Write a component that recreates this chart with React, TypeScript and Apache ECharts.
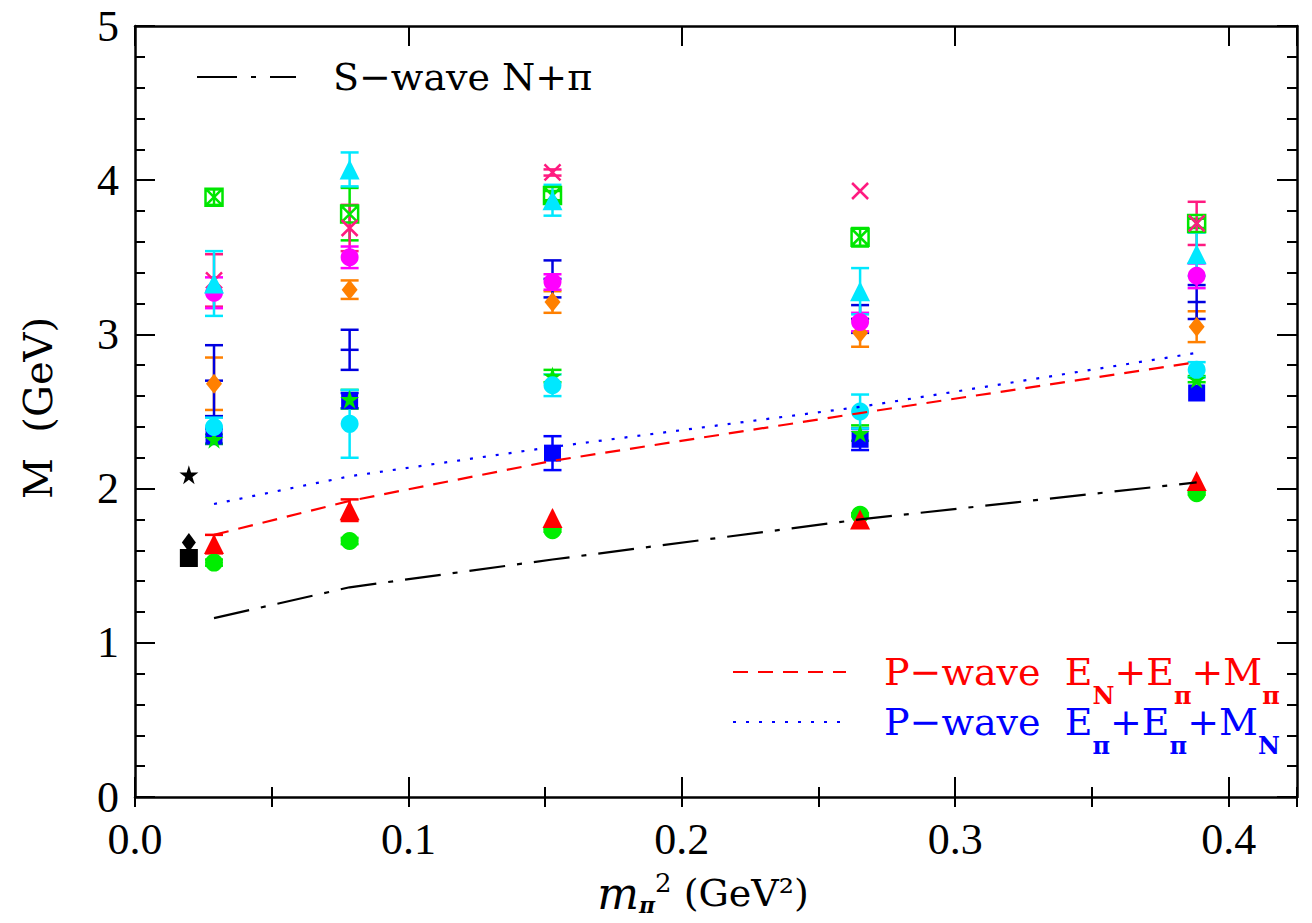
import React, { useEffect, useRef } from "react";
import * as echarts from "echarts";

// ---------- data ----------
const pionMassSq = [0.0289, 0.0785, 0.1527, 0.2652, 0.3883];
const physicalPionMassSq = 0.0197;

const xTickValues = [0, 0.1, 0.2, 0.3, 0.4];
const yTickValues = [0, 1, 2, 3, 4, 5];

const sWaveNPi = [1.16, 1.36, 1.54, 1.8, 2.04];
const pWaveENEpiMpi = [1.7, 1.92, 2.18, 2.49, 2.82];
const pWaveEpiEpiMN = [1.9, 2.08, 2.27, 2.53, 2.88];

const greenCircle = [1.52, 1.66, 1.73, 1.83, 1.97];
const greenCircleErr = [0.02, 0.02, 0.01, 0.01, 0.01];
const redTriangle = [1.64, 1.86, 1.81, 1.8, 2.05];
const redTriangleErr = [0.06, 0.07, 0.0, 0.0, 0.0];
const blueSquare = [2.34, 2.57, 2.23, 2.32, 2.62];
const blueSquareErr = [0.05, 0.05, 0.11, 0.07, 0.0];
const greenStar = [2.32, 2.58, 2.73, 2.36, 2.71];
const greenStarErr = [0.03, 0.06, 0.04, 0.05, 0.02];
const cyanCircle = [2.4, 2.42, 2.67, 2.5, 2.77];
const cyanCircleErr = [0.06, 0.22, 0.07, 0.11, 0.05];
const bluePlus = [2.7, 2.9, 3.36, 3.1, 3.21];
const bluePlusErr = [0.23, 0.13, 0.12, 0.09, 0.11];
const orangeDiamond = [2.68, 3.29, 3.21, 3.01, 3.05];
const orangeDiamondErr = [0.17, 0.06, 0.07, 0.09, 0.1];
const magentaCircle = [3.27, 3.5, 3.34, 3.08, 3.38];
const magentaCircleErr = [0.1, 0.07, 0.05, 0.06, 0.08];
const cyanTriangle = [3.33, 4.07, 3.87, 3.28, 3.52];
const cyanTriangleErr = [0.21, 0.11, 0.1, 0.15, 0.14];
const greenBoxX = [3.89, 3.78, 3.9, 3.63, 3.72];
const greenBoxXErr = [0.05, 0.17, 0.03, 0.06, 0.03];
const pinkX = [3.35, 3.69, 4.05, 3.93, 3.72];
const pinkXErr = [0.17, 0.15, 0.02, 0.0, 0.14];

const physSquare = 1.55;
const physDiamond = 1.65;
const physStar = 2.09;

// ---------- styles ----------
const STAR = "path://M50,0 L61,35 L98,35 L68,57 L79,91 L50,70 L21,91 L32,57 L2,35 L39,35 Z";
const XMARK = "path://M0,0 L10,10 M10,0 L0,10";
const BOXX = "path://M0,0 L10,0 L10,10 L0,10 Z M0,0 L10,10 M10,0 L0,10";

type DS = {
  name: string;
  vals: number[];
  errs: number[];
  color: string;
  symbol: string | null;
  size: number | number[];
  hollow?: boolean;
  centerTick?: boolean;
};

const dataSets: DS[] = [
  { name: "greenBoxX", vals: greenBoxX, errs: greenBoxXErr, color: "#00e600", symbol: BOXX, size: 17, hollow: true },
  { name: "pinkX", vals: pinkX, errs: pinkXErr, color: "#ff1a80", symbol: XMARK, size: 16, hollow: true },
  { name: "orangeDiamond", vals: orangeDiamond, errs: orangeDiamondErr, color: "#ff8000", symbol: "diamond", size: [16, 20] },
  { name: "bluePlus", vals: bluePlus, errs: bluePlusErr, color: "#0000e0", symbol: null, size: 0, centerTick: true },
  { name: "magentaCircle", vals: magentaCircle, errs: magentaCircleErr, color: "#ff00ff", symbol: "circle", size: 18 },
  { name: "cyanTriangle", vals: cyanTriangle, errs: cyanTriangleErr, color: "#00e8ff", symbol: "triangle", size: 20 },
  { name: "blueSquare", vals: blueSquare, errs: blueSquareErr, color: "#0000ff", symbol: "rect", size: 17 },
  { name: "greenStar", vals: greenStar, errs: greenStarErr, color: "#00e600", symbol: STAR, size: 19 },
  { name: "cyanCircle", vals: cyanCircle, errs: cyanCircleErr, color: "#00e8ff", symbol: "circle", size: 18 },
  { name: "greenCircle", vals: greenCircle, errs: greenCircleErr, color: "#00ee00", symbol: "circle", size: 18 },
  { name: "redTriangle", vals: redTriangle, errs: redTriangleErr, color: "#ff0000", symbol: "triangle", size: 20 },
];

function makeErrorRenderer(color: string, centerTick: boolean) {
  return (params: any, api: any) => {
    const x = api.value(0);
    const y = api.value(1);
    const e = api.value(2);
    const c = api.coord([x, y]);
    const top = api.coord([x, y + e]);
    const bot = api.coord([x, y - e]);
    const hw = 9;
    const style = { stroke: color, lineWidth: 2.5 };
    const children: any[] = [];
    if (e > 0) {
      children.push({ type: "line", shape: { x1: c[0], y1: top[1], x2: c[0], y2: bot[1] }, style });
      children.push({ type: "line", shape: { x1: c[0] - hw, y1: top[1], x2: c[0] + hw, y2: top[1] }, style });
      children.push({ type: "line", shape: { x1: c[0] - hw, y1: bot[1], x2: c[0] + hw, y2: bot[1] }, style });
    }
    if (centerTick) {
      children.push({ type: "line", shape: { x1: c[0] - hw, y1: c[1], x2: c[0] + hw, y2: c[1] }, style });
    }
    return { type: "group", children };
  };
}

const SERIF = "DejaVu Serif";
const TICKFONT = "Liberation Serif";

function buildOption() {
  const series: any[] = [];
  dataSets.forEach((d) => {
    series.push({
      type: "custom",
      name: d.name + "Err",
      xAxisIndex: 0,
      yAxisIndex: 0,
      renderItem: makeErrorRenderer(d.color, !!d.centerTick),
      encode: { x: 0, y: 1 },
      data: pionMassSq.map((x, i) => [x, d.vals[i], d.errs[i]]),
      silent: true,
    });
    if (d.symbol) {
      series.push({
        type: "scatter",
        name: d.name,
        xAxisIndex: 0,
        yAxisIndex: 0,
        symbol: d.symbol,
        symbolSize: d.size,
        data: pionMassSq.map((x, i) => [x, d.vals[i]]),
        itemStyle: d.hollow
          ? { color: "rgba(0,0,0,0)", borderColor: d.color, borderWidth: 2.5, opacity: 1 }
          : { color: d.color, opacity: 1 },
        silent: true,
      });
    }
  });

  const phys = [
    { name: "physSquare", symbol: "rect", size: 18, val: physSquare },
    { name: "physDiamond", symbol: "diamond", size: [14, 19], val: physDiamond },
    { name: "physStar", symbol: STAR, size: 19, val: physStar },
  ];
  phys.forEach((p) => {
    series.push({
      type: "scatter",
      name: p.name,
      symbol: p.symbol,
      symbolSize: p.size,
      data: [[physicalPionMassSq, p.val]],
      itemStyle: { color: "#000", opacity: 1 },
      silent: true,
    });
  });

  const lineSeries = [
    { name: "S-wave N+pi", vals: sWaveNPi, color: "#000000", dash: [36, 12, 5, 12] },
    { name: "P-wave EN+Epi+Mpi", vals: pWaveENEpiMpi, color: "#ff0000", dash: [15, 10] },
    { name: "P-wave Epi+Epi+MN", vals: pWaveEpiEpiMN, color: "#0000ff", dash: [3, 10] },
  ];
  lineSeries.forEach((l) => {
    series.push({
      type: "line",
      name: l.name,
      symbol: "none",
      data: pionMassSq.map((x, i) => [x, l.vals[i]]),
      lineStyle: { color: l.color, width: 2.2, type: l.dash, opacity: 1 },
      z: 5,
      silent: true,
    });
  });

  const axisLine = { show: true, onZero: false, lineStyle: { color: "#000", width: 2.5 } };
  const majorTick = { show: true, inside: true, length: 20, lineStyle: { color: "#000", width: 2 } };
  const minorTickX = { show: true, inside: true, length: 10, lineStyle: { color: "#000", width: 2 } };

  const xMin = xTickValues[0];
  const xMax = 0.425;

  const xAxisBase = {
    type: "value",
    min: xMin,
    max: xMax,
    splitLine: { show: false },
  };

  const option: any = {
    animation: false,
    backgroundColor: "#ffffff",
    grid: { left: 135, right: 15, top: 26, bottom: 126, containLabel: false },
    xAxis: [
      {
        ...xAxisBase,
        position: "bottom",
        interval: 0.1,
        axisLine,
        axisTick: majorTick,
        axisLabel: {
          show: true,
          showMaxLabel: false,
          formatter: (v: number) => (xTickValues.some((t) => Math.abs(t - v) < 1e-9) ? v.toFixed(1) : ""),
          fontSize: 44,
          fontFamily: TICKFONT,
          color: "#000",
          margin: 18,
          lineHeight: 48,
        },
      },
      {
        ...xAxisBase,
        position: "top",
        interval: 0.1,
        axisLine,
        axisTick: majorTick,
        axisLabel: { show: false },
      },
      {
        ...xAxisBase,
        position: "bottom",
        interval: 0.05,
        axisLine: { show: false },
        axisTick: minorTickX,
        axisLabel: { show: false },
      },
      {
        ...xAxisBase,
        position: "top",
        interval: 0.05,
        axisLine: { show: false },
        axisTick: minorTickX,
        axisLabel: { show: false },
      },
    ],
    yAxis: [
      {
        type: "value",
        position: "left",
        min: yTickValues[0],
        max: yTickValues[yTickValues.length - 1],
        interval: 1,
        axisLine,
        axisTick: majorTick,
        minorTick: { show: true, splitNumber: 5, length: 10, lineStyle: { color: "#000", width: 2 } },
        splitLine: { show: false },
        minorSplitLine: { show: false },
        axisLabel: { fontSize: 44, fontFamily: TICKFONT, color: "#000", margin: 16 },
      },
      {
        type: "value",
        position: "right",
        min: yTickValues[0],
        max: yTickValues[yTickValues.length - 1],
        interval: 1,
        axisLine,
        axisTick: majorTick,
        minorTick: { show: true, splitNumber: 5, length: 10, lineStyle: { color: "#000", width: 2 } },
        splitLine: { show: false },
        axisLabel: { show: false },
      },
    ],
    series,
    graphic: [
      // y-axis title
      {
        type: "text",
        x: 38,
        y: 408,
        rotation: Math.PI / 2,
        style: {
          text: "M  (GeV)",
          fontSize: 40,
          fontFamily: SERIF,
          fill: "#000",
          align: "center",
          verticalAlign: "middle",
        },
      },
      // x-axis title
      {
        type: "text",
        x: 703,
        y: 893,
        style: {
          text: "{i|m}{s|π}{p|2} (GeV²)",
          fontSize: 38,
          fontFamily: SERIF,
          fill: "#000",
          align: "center",
          verticalAlign: "middle",
          lineHeight: 46,
          rich: {
            i: { fontSize: 44, fontStyle: "italic", fontFamily: SERIF, fill: "#000", lineHeight: 46 },
            s: { fontSize: 22, fontStyle: "italic", fontWeight: "bold", fontFamily: SERIF, fill: "#000", lineHeight: 20, verticalAlign: "bottom" },
            p: { fontSize: 26, fontFamily: SERIF, fill: "#000", lineHeight: 22, verticalAlign: "top" },
          },
        },
      },
      // legend: S-wave
      {
        type: "line",
        shape: { x1: 197, y1: 77, x2: 296, y2: 77 },
        style: { stroke: "#000", lineWidth: 2.2, lineDash: [40, 14, 5, 14] },
      },
      {
        type: "text",
        x: 333,
        y: 77,
        style: {
          text: "S−wave N+π",
          fontSize: 38,
          fontFamily: SERIF,
          fill: "#000",
          align: "left",
          verticalAlign: "middle",
        },
      },
      // legend: P-wave red
      {
        type: "line",
        shape: { x1: 733, y1: 672, x2: 846, y2: 672 },
        style: { stroke: "#ff0000", lineWidth: 2.2, lineDash: [15, 10] },
      },
      {
        type: "text",
        x: 884,
        y: 672,
        style: {
          text: "{m|P−wave  E}{s|N}{m|+E}{s|π}{m|+M}{s|π}",
          fontSize: 38,
          fontFamily: SERIF,
          fill: "#ff0000",
          align: "left",
          verticalAlign: "middle",
          rich: {
            m: { fontSize: 38, fontFamily: SERIF, fill: "#ff0000", lineHeight: 70 },
            s: { fontSize: 24, fontFamily: SERIF, fontWeight: "bold", fill: "#ff0000", lineHeight: 26, verticalAlign: "bottom" },
          },
        },
      },
      // legend: P-wave blue
      {
        type: "line",
        shape: { x1: 733, y1: 722, x2: 846, y2: 722 },
        style: { stroke: "#0000ff", lineWidth: 2.2, lineDash: [3, 10] },
      },
      {
        type: "text",
        x: 884,
        y: 722,
        style: {
          text: "{m|P−wave  E}{s|π}{m|+E}{s|π}{m|+M}{s|N}",
          fontSize: 38,
          fontFamily: SERIF,
          fill: "#0000ff",
          align: "left",
          verticalAlign: "middle",
          rich: {
            m: { fontSize: 38, fontFamily: SERIF, fill: "#0000ff", lineHeight: 70 },
            s: { fontSize: 24, fontFamily: SERIF, fontWeight: "bold", fill: "#0000ff", lineHeight: 26, verticalAlign: "bottom" },
          },
        },
      },
    ],
  };
  return option;
}

export default function App() {
  const ref = useRef<HTMLDivElement>(null);
  useEffect(() => {
    if (!ref.current) return;
    const chart = echarts.init(ref.current, undefined, { renderer: "svg" });
    chart.setOption(buildOption());
    return () => {
      chart.dispose();
    };
  }, []);
  return (
    <div
      ref={ref}
      style={{ position: "fixed", left: 0, top: 0, width: 1312, height: 923, background: "#fff" }}
    />
  );
}
